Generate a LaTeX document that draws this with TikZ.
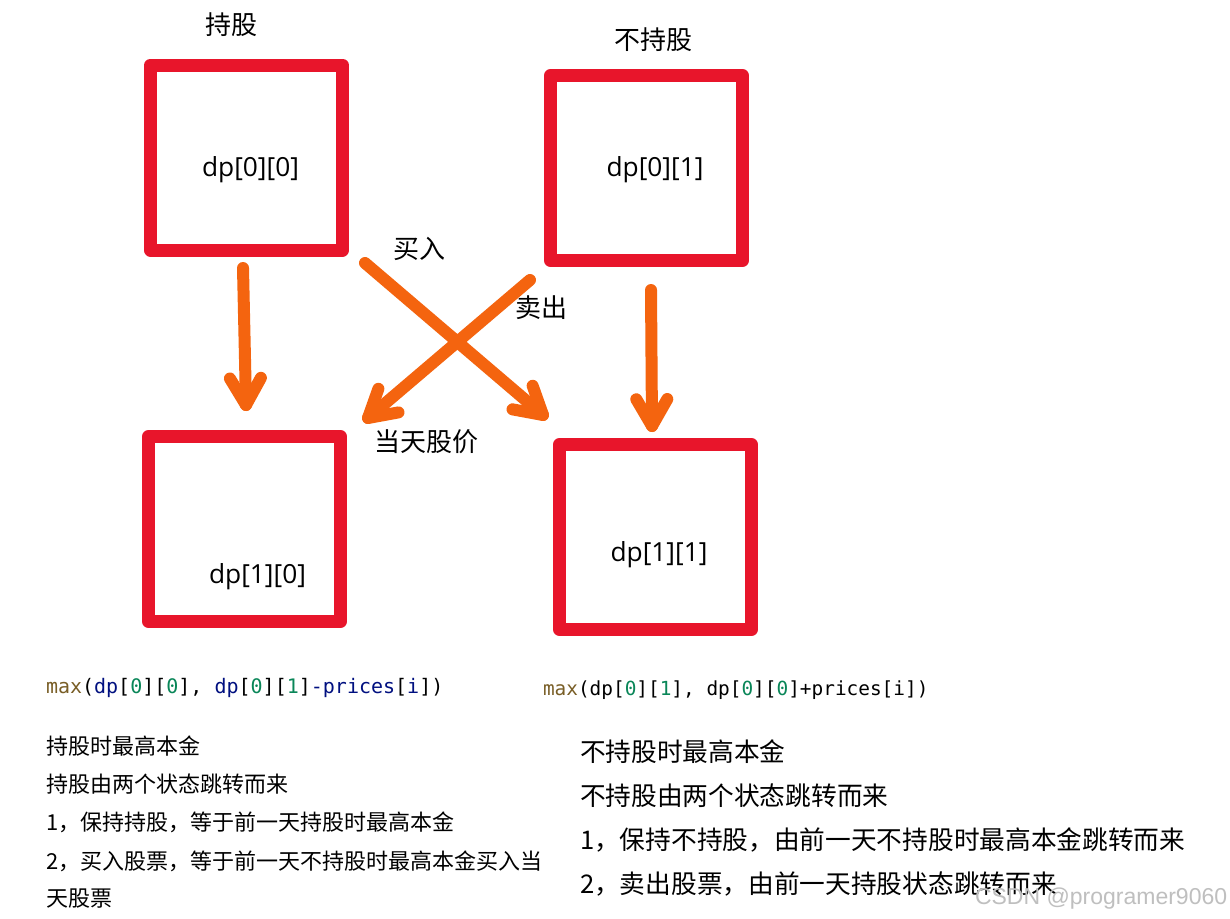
\documentclass[tikz,border=0pt]{standalone}
\usepackage{fontspec}
\usetikzlibrary{calc}
\newfontfamily\cjk{Noto Sans CJK SC}
\newfontfamily\codefont{DejaVu Sans Mono}
\newfontfamily\dpfont{Open Sans}
\newfontfamily\wmfont{Liberation Sans}
\definecolor{boxred}{HTML}{E8152B}
\definecolor{arrorange}{HTML}{F4640F}
\definecolor{fn}{HTML}{795E26}
\definecolor{var}{HTML}{001080}
\definecolor{num}{HTML}{098658}
\begin{document}
\begin{tikzpicture}[x=1pt,y=-1pt,
  every node/.style={inner sep=0pt,outer sep=0pt},
  statebox/.style={draw=boxred,line width=13pt,line join=round,minimum width=192pt,minimum height=185pt},
  dplab/.style={font=\dpfont\fontsize{26.3}{30}\selectfont},
  cjklab/.style={font=\cjk\fontsize{26}{30}\selectfont},
  leftnote/.style={anchor=west,font=\cjk\fontsize{22}{26}\selectfont},
  rightnote/.style={anchor=west,font=\cjk\fontsize{25.7}{30}\selectfont},
  codeline/.style={anchor=west,font=\codefont\fontsize{20}{24}\selectfont},
  arr/.style={draw=arrorange,line width=12pt,line cap=round,line join=round}]
\useasboundingbox[fill=white] (0,0) rectangle (1230,918);

% boxes
\node[statebox] (b00) at (246.5,157.5) {};
\node[statebox] (b01) at (646.5,168) {};
\node[statebox] (b10) at (244.5,529) {};
\node[statebox] (b11) at (655.5,537) {};

% box texts
\node[dplab] (t00) at (250.5,169.5) {dp[0][0]};
\node[dplab] (t01) at (655,169.5) {dp[0][1]};
\node[dplab] (t10) at (257.5,577) {dp[1][0]};
\node[dplab] (t11) at (659,555) {dp[1][1]};

% labels
\node[cjklab] (lhold) at (231,25) {持股};
\node[cjklab] (lnohold) at (653,40) {不持股};
\node[cjklab] (lbuy) at (419,249) {买入};
\node[cjklab] (lsell) at (541,308) {卖出};
\node[cjklab] (lprice) at (426,442) {当天股价};

% arrow end points
\coordinate (s1) at (243,268); \coordinate (e1) at (246,405);
\coordinate (s2) at (651,290); \coordinate (e2) at (652,426);
\coordinate (s3) at (365,263); \coordinate (e3) at (543,415);
\coordinate (s4) at (530,280); \coordinate (e4) at (368,418);

\foreach \s/\e in {s1/e1,s2/e2,s3/e3,s4/e4}{
  \draw[arr] (\s) -- (\e);
  \draw[arr] ($(\e)!31pt!30:(\s)$) -- (\e) -- ($(\e)!31pt!-30:(\s)$);
}

% code lines
\node[codeline] (code0) at (46,688) {\textcolor{fn}{max}(\textcolor{var}{dp}[\textcolor{num}{0}][\textcolor{num}{0}], \textcolor{var}{dp}[\textcolor{num}{0}][\textcolor{num}{1}]\textcolor{var}{-prices}[\textcolor{var}{i}])};
\node[codeline,font=\codefont\fontsize{19.4}{24}\selectfont] (code1) at (543,690) {\textcolor{fn}{max}(dp[\textcolor{num}{0}][\textcolor{num}{1}], dp[\textcolor{num}{0}][\textcolor{num}{0}]+prices[i])};

% notes left
\node[leftnote] (nl1) at (46,746) {持股时最高本金};
\node[leftnote] (nl2) at (46,784) {持股由两个状态跳转而来};
\node[leftnote] (nl3) at (46,822.5) {1，保持持股，等于前一天持股时最高本金};
\node[leftnote] (nl4) at (46,861) {2，买入股票，等于前一天不持股时最高本金买入当};
\node[leftnote] (nl5) at (46,899) {天股票};

% notes right
\node[rightnote] (nr1) at (580,752) {不持股时最高本金};
\node[rightnote] (nr2) at (580,796) {不持股由两个状态跳转而来};
\node[rightnote] (nr3) at (580,840) {1，保持不持股，由前一天不持股时最高本金跳转而来};
\node[rightnote] (nr4) at (580,884) {2，卖出股票，由前一天持股状态跳转而来};

% watermark
\node[anchor=west,font=\wmfont\fontsize{23}{26}\selectfont,text=black!25] (wm) at (975,899) {CSDN @programer9060};
\end{tikzpicture}
\end{document}
